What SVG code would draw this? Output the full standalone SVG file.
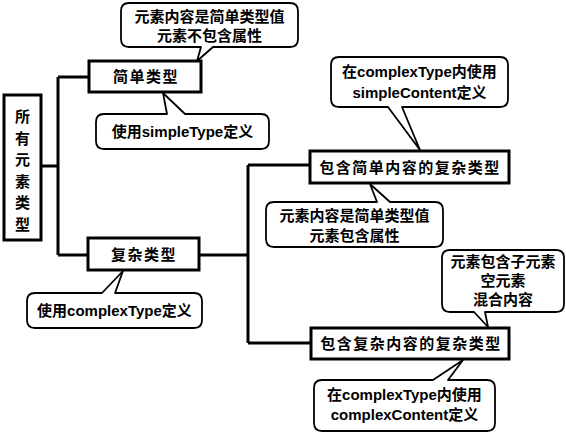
<svg xmlns="http://www.w3.org/2000/svg" width="566" height="433" viewBox="0 0 566 433">
<style>
.ln{fill:none;stroke:#000;stroke-width:3}
.nd{fill:#fff;stroke:#000;stroke-width:3}
.co{fill:#fff;stroke:#000;stroke-width:1.8;stroke-linejoin:round}
text{font-family:"Liberation Sans","Noto Sans CJK SC",sans-serif;font-weight:bold;font-size:15px;fill:#000;text-anchor:middle}
.nt{letter-spacing:1.5px}
</style>
<rect width="566" height="433" fill="#fff"/>
<g id="connectors">
<path class="ln" d="M41,166 H58 M58,77 V255 M58,77 H89 M58,255 H88 M199,255 H248 M248,165 V343 M248,165 H310 M248,343 H311"/>
</g>
<g id="root">
<rect class="nd" x="4" y="95" width="37" height="145"/>
<text x="22.5" y="122">所</text>
<text x="22.5" y="144">有</text>
<text x="22.5" y="165">元</text>
<text x="22.5" y="187">素</text>
<text x="22.5" y="208">类</text>
<text x="22.5" y="230">型</text>
</g>
<g id="simple">
<rect class="nd" x="89" y="61" width="112" height="31"/>
<text class="nt" x="146" y="82">简单类型</text>
</g>
<g id="complex">
<rect class="nd" x="88" y="238" width="111" height="32"/>
<text class="nt" x="144" y="260">复杂类型</text>
</g>
<g id="complex-simple">
<rect class="nd" x="310" y="151" width="199" height="32"/>
<text class="nt" x="410" y="173">包含简单内容的复杂类型</text>
</g>
<g id="complex-complex">
<rect class="nd" x="311" y="328" width="198" height="31"/>
<text class="nt" x="411" y="349">包含复杂内容的复杂类型</text>
</g>
<g id="note1">
<path class="co" d="M129,3 H290 Q298,3 298,11 V39 Q298,47 290,47 H213 L197,61 L201,47 H129 Q121,47 121,39 V11 Q121,3 129,3 Z"/>
<text x="209.5" y="22">元素内容是简单类型值</text>
<text x="209.5" y="41">元素不包含属性</text>
</g>
<g id="note2">
<path class="co" d="M104,114 H167 L163,93 L185,114 H261 Q269,114 269,122 V141 Q269,149 261,149 H104 Q96,149 96,141 V122 Q96,114 104,114 Z"/>
<text x="182.5" y="137">使用simpleType定义</text>
</g>
<g id="note3">
<path class="co" d="M35,293 H102 L123,271 L115,293 H194 Q202,293 202,301 V320 Q202,328 194,328 H35 Q27,328 27,320 V301 Q27,293 35,293 Z"/>
<text x="114.5" y="316">使用complexType定义</text>
</g>
<g id="note4">
<path class="co" d="M339,57 H500 Q508,57 508,65 V99 Q508,107 500,107 H402 L420,150 L388,107 H339 Q331,107 331,99 V65 Q331,57 339,57 Z"/>
<text x="419.5" y="77">在complexType内使用</text>
<text x="419.5" y="98">simpleContent定义</text>
</g>
<g id="note5">
<path class="co" d="M274,202 H377 L370,184 L390,202 H435 Q443,202 443,210 V239 Q443,247 435,247 H274 Q266,247 266,239 V210 Q266,202 274,202 Z"/>
<text x="354.5" y="221">元素内容是简单类型值</text>
<text x="354.5" y="241">元素包含属性</text>
</g>
<g id="note6">
<path class="co" d="M450,250 H556 Q564,250 564,258 V304 Q564,312 556,312 H485 L488,327 L474,312 H450 Q442,312 442,304 V258 Q442,250 450,250 Z"/>
<text x="503" y="267">元素包含子元素</text>
<text x="503" y="286">空元素</text>
<text x="503" y="305">混合内容</text>
</g>
<g id="note7">
<path class="co" d="M322,380 H433 L463,360 L448,380 H487 Q495,380 495,388 V423 Q495,431 487,431 H322 Q314,431 314,423 V388 Q314,380 322,380 Z"/>
<text x="404.5" y="400">在complexType内使用</text>
<text x="404.5" y="420">complexContent定义</text>
</g>
</svg>
